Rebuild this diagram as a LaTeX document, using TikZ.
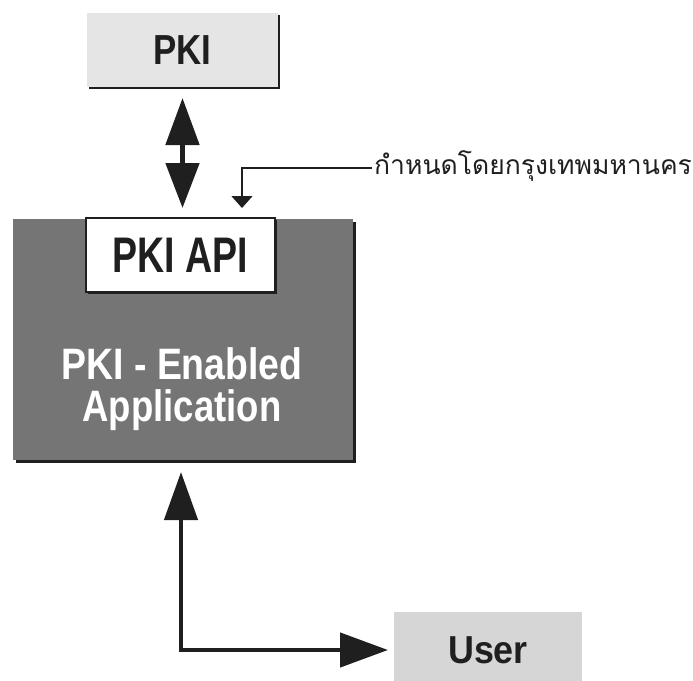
\documentclass[tikz,border=0pt]{standalone}
\usepackage{fontspec}
\setmainfont{Liberation Sans}
\newfontfamily\thaifont[Script=Thai]{Loma}
\usetikzlibrary{arrows.meta,shadows}

\definecolor{pkifill}{gray}{0.9}
\definecolor{userfill}{gray}{0.84}
\definecolor{appfill}{gray}{0.46}
\definecolor{ink}{gray}{0.12}

% helper: bold Arial-like text, condensed horizontally
\newcommand{\cond}[3]{\scalebox{#1}[1]{\fontsize{#2}{#2}\selectfont\bfseries #3}}

\begin{document}
\begin{tikzpicture}[x=1pt,y=-1pt,
  block/.style={rectangle, inner sep=0pt, outer sep=0pt},
  shade3/.style={drop shadow={shadow xshift=3pt, shadow yshift=-3pt, opacity=1, fill=ink}},
  shade2/.style={drop shadow={shadow xshift=2pt, shadow yshift=-2pt, opacity=1, fill=ink}},
  fat/.style={draw=ink, line width=#1},
  thinlink/.style={draw=ink, line width=1.4pt}]
\useasboundingbox (0,0) rectangle (693,680);

% boxes
\node[block, shade2, fill=pkifill, minimum width=191pt, minimum height=74pt] (pki) at (182.5,50) {};
\node[block, shade3, fill=appfill, minimum width=340pt, minimum height=241pt] (app) at (183,339.5) {};
\node[block, shade2, fill=white, draw=ink, line width=1.3pt, minimum width=189pt, minimum height=74pt] (api) at (180.5,255) {};
\node[block, fill=userfill, minimum width=188pt, minimum height=76pt] (user) at (488,650) {};

% labels
\node[inner sep=0pt, text=ink] (pkit) at (pki.center) {\cond{0.83}{42}{PKI}};
\node[inner sep=0pt, text=ink] (apit) at (api.center) {\cond{0.75}{50}{PKI API}};
\node[inner sep=0pt, text=white, align=center, font=\fontsize{44}{42}\selectfont\bfseries]
  (appt) at (182,389.5)
  {\scalebox{0.85}[1]{PKI - Enabled}\\
   \scalebox{0.83}[1]{Application}};
\node[inner sep=0pt, text=ink] (usert) at (user.center) {\cond{0.92}{39}{User}};
\node[inner sep=0pt, anchor=base west, text=ink] (note) at (374,174)
  {\thaifont\fontsize{26.5}{26.5}\selectfont กำหนดโดยกรุงเทพมหานคร};

% connectors
\draw[fat=5pt, {Triangle[width=33pt,length=47pt]}-{Triangle[width=33pt,length=45pt]},
      shorten <=11pt, shorten >=10pt]
  (pki.south) -- (pki.south |- api.north);
\draw[fat=4.5pt, {Triangle[width=33pt,length=48pt]}-{Triangle[width=34pt,length=48pt]},
      shorten <=12pt, shorten >=6pt]
  ([xshift=-2pt]app.south) |- (user.west);
\draw[thinlink, -{Triangle[width=21pt,length=12pt]}, shorten >=10pt]
  ([xshift=-2pt,yshift=6pt]note.base west) -| ([xshift=61.5pt]api.north);
\end{tikzpicture}
\end{document}
